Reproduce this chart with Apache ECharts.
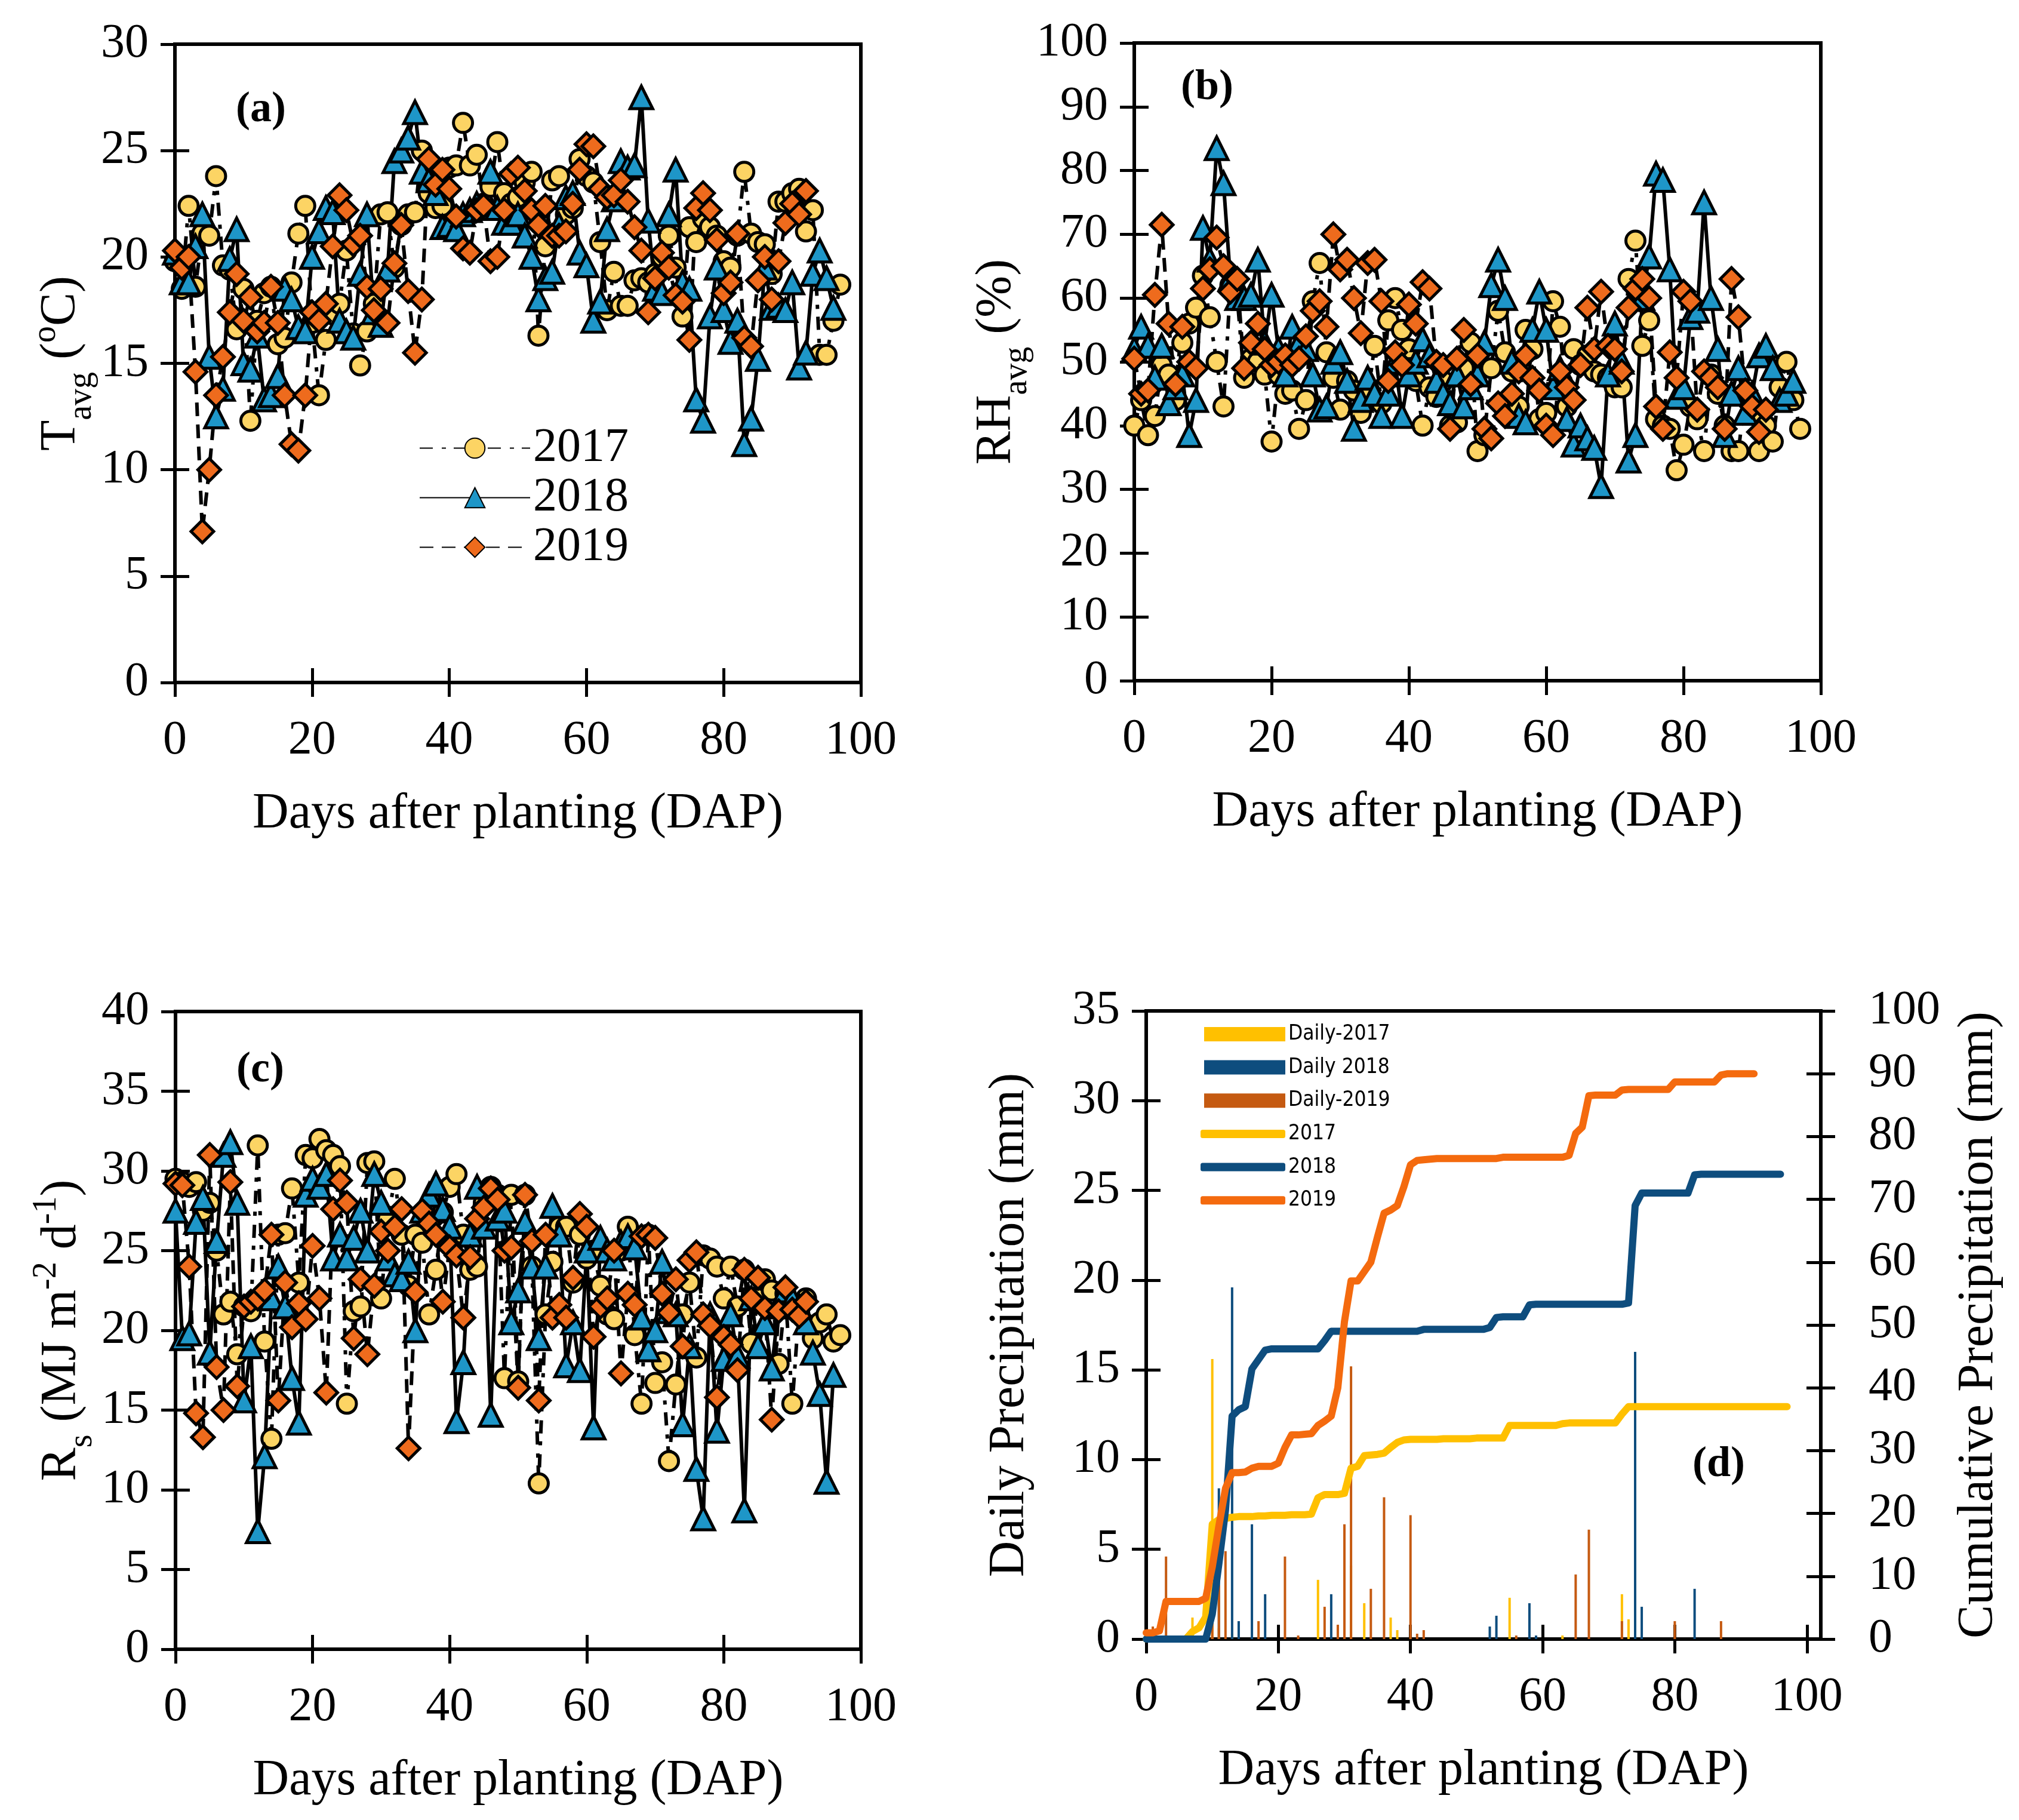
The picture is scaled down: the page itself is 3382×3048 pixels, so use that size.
<!DOCTYPE html>
<html>
<head>
<meta charset="utf-8">
<script src="https://cdn.jsdelivr.net/npm/echarts@6/dist/echarts.min.js"></script>
<style>html,body{margin:0;padding:0;background:#fff}#c{width:3382px;height:3048px}</style>
</head>
<body>
<div id="c"></div>
<script>
// ---------- DATA ----------
// (a) Average air temperature, degC, index = days after planting
const tavg2017 = [19.8,18.5,22.4,18.6,21.1,21.0,23.8,19.6,19.4,16.6,
  18.5,12.3,17.0,18.3,18.6,15.9,16.2,18.8,21.1,22.4,
  16.9,13.5,16.1,17.3,17.8,20.3,16.4,14.9,16.5,17.8,
  22.0,22.1,19.5,21.5,22.0,22.1,25.0,23.0,22.3,22.4,
  24.2,24.3,26.3,24.3,24.8,22.5,23.3,25.4,23.0,22.5,
  22.8,23.5,24.0,16.3,20.5,23.6,23.8,22.0,22.3,24.6,
  23.8,23.5,20.7,17.5,19.3,17.7,17.7,18.9,19.0,18.8,
  19.2,20.0,21.0,19.5,17.2,21.4,20.7,21.8,21.4,21.0,
  19.8,19.5,21.0,24.0,21.1,20.7,20.6,19.2,22.6,22.6,
  23.0,23.2,21.2,22.2,15.4,15.4,17.0,18.7];
const tavg2018 = [20.2,18.8,18.8,20.5,22.0,15.3,12.5,13.8,19.9,21.3,
  15.0,14.7,16.3,13.3,13.5,14.4,18.5,18.0,16.7,16.5,
  20.0,21.2,22.3,22.1,17.0,16.5,16.2,19.2,22.0,17.4,
  16.8,19.4,24.5,25.0,25.6,26.8,24.0,23.6,23.0,21.4,
  21.5,21.3,22.0,22.2,22.5,22.3,24.0,22.3,21.6,21.6,
  22.0,21.0,20.0,18.0,19.0,19.3,21.5,22.8,23.0,20.2,
  19.6,17.0,17.9,21.3,22.7,24.5,24.2,24.3,27.5,21.7,
  18.5,18.3,22.0,24.1,18.8,18.5,13.3,12.3,17.2,19.5,
  17.5,16.0,17.0,11.2,12.4,15.2,19.5,17.6,17.7,17.5,
  18.8,14.8,15.5,19.2,20.3,19.0,17.6];
const tavg2019 = [20.3,19.5,20.0,14.6,7.1,10.0,13.5,15.3,17.4,19.2,
  17.0,18.1,16.5,16.9,18.6,16.9,13.5,11.2,10.9,13.5,
  17.4,17.0,17.8,20.5,22.9,22.2,20.6,21.0,18.6,17.5,
  18.5,16.9,19.7,21.5,18.4,15.5,18.0,24.6,23.4,24.1,
  23.2,21.9,20.4,20.2,22.2,22.4,19.8,20.0,22.2,23.9,
  24.2,23.1,22.2,21.5,22.4,21.0,21.0,21.2,22.5,24.1,
  25.3,25.2,23.2,22.8,22.9,23.6,22.6,21.4,20.3,17.4,
  19.0,20.2,19.5,18.2,17.9,16.1,22.3,23.0,22.2,20.8,
  18.3,18.8,21.1,16.2,15.8,18.9,20.0,18.0,19.8,21.6,
  22.5,22.0,23.1];

// (b) Average relative humidity, %
const rh2017 = [40,44,38.5,41.5,49.5,48,44,53,56,58.5,
  63.5,57,50,43,62,60,47.5,50.5,50,48,
  37.5,48,45,45.5,39.5,44,59.5,65.5,51.5,47.5,
  42.5,47,45.5,42,44.5,52.5,43.5,56.5,60,55,
  52,47,40,46,44.5,47,40,40.5,49,53,
  36,38.5,49,58,51.5,48.5,43,55,52,41,
  42,59.5,55.5,43,52,49.5,51,48.5,48,47.5,
  46,46,63,69,52.5,56.5,41,40,39.5,33,
  37,43,41,36,48,45,40,36,36,45,
  42,36,40,37.5,46,50,44,39.5];
const rh2018 = [52,55.5,52.5,47.5,52.5,43.5,46,48,38.5,44,
  71,66,83.5,78,63,60,60,60.5,66,53,
  60.5,52,48,55.5,53,52,48,42.5,43,50,
  51.5,47,39.5,44,47.5,45,41.5,45,50,41.5,
  48,50,53.5,51,47,45,43.5,48,43,46,
  48,53,62,66,60,50,41.5,40.5,55,61,
  55,46,49,41,37,40,38,36.5,30.5,48,
  56,50,34.5,38.5,60,66.5,79.5,78.5,64.5,44.5,
  46,57,58,75,60,52,38.5,45,49,42,
  45,51,52.5,49,44,45,47];
const rh2019 = [50.5,45,45.5,60.5,71.5,56,46.5,55.5,50,49,
  61.5,64.5,69.5,65,61,63,49,53,56,52,
  49.5,50,51,49.5,50.5,54,58,59.5,55.5,70,
  64.5,66,60,54.5,65.5,66,59.5,47,51.5,49.5,
  59,56,62.5,61.5,50,49.5,39.5,50.5,55,46.5,
  51,39.5,38,43.5,41.5,45,48.5,51,47.5,45.5,
  40,38.5,48.5,46,44,49.5,58.5,52,61,52.5,
  52,48.5,58.5,61.5,63,60,43,39.5,51.5,47.5,
  61,59.5,42.5,48.5,47.5,46,39.5,63,57,45.5,
  43,39,42.5];

// (c) Solar radiation, MJ m-2 d-1
const rs2017 = [29.5,29.3,29.0,29.3,27.5,28,25,21,21.8,18.5,
  21.5,21.2,31.6,19.3,13.2,26,26.1,28.9,23,31,
  30.8,32,31.3,31,30.3,15.4,21.2,21.5,30.5,30.6,
  22,27,29.5,26,22.8,26,25.5,21,23.8,27.4,
  29,29.8,26,23.8,24,28,29,28.5,17,28.5,
  16.8,28.5,24,10.4,21,24.3,26.5,26.5,23,26,
  24.5,25,22.8,21,20.7,25,26.5,19.7,15.4,26,
  16.7,18,11.8,16.6,21,23,18.3,24.7,24.5,24,
  22,24,21.5,23.8,19.2,22,23.2,22.5,17.9,22.3,
  15.4,21.5,22,19.5,20.5,21,19.3,19.7];
const rs2018 = [27.5,19.5,19.8,26.8,28.3,18.6,25.6,31,31.8,28,
  15.6,19,7.4,12.1,22,24,21.5,17,14.2,28.5,
  29.5,29,29.8,24.5,26,24.5,25.8,27.5,25,29.8,
  28,24.5,23.5,23.2,24.3,20,27.5,28.5,29.2,27.6,
  26.5,14.3,18,26,29,26.5,14.7,27,27.5,20.5,
  22.5,26.8,24,19.5,24,27.8,26,17.8,20.5,17.5,
  25,13.9,25.8,25,24.5,25.5,25.9,25.2,20.8,18.8,
  20,24.3,21.2,21,14.1,19,11.3,8.2,21,13.7,
  18.2,21,18.4,8.7,22,19,20.5,17.6,21.5,22.5,
  22,21.5,20.5,18.6,16,10.5,17.2];
const rs2019 = [29.2,29.1,24,14.8,13.3,31,17.7,15,29.3,16.5,
  21.5,21.8,22,22.5,26,15.6,23,20.2,21.7,20.7,
  25.3,22,16.1,27.6,29.4,28,19.5,23.2,18.5,22.8,
  26.2,25,26.5,27.6,12.6,22.4,27.5,26.7,26,21.8,
  25.2,24.7,20.8,24.6,27,27.7,28.9,28.2,25,25.2,
  16.4,28.5,25.6,15.6,26,20.8,21.6,20.8,23.3,27.3,
  26.5,19.6,21.5,22,25,17.3,22.3,21.6,25.9,26,
  25.8,22.3,21.1,23.2,19,24.4,24.9,21,20.3,15.8,
  19.6,19.1,17.5,23.8,22,23.3,21.4,14.4,21.2,22.7,
  21.3,20.9,21.8];

// (d) Daily precipitation, mm: [day, mm]
const daily2017 = [[7,1.2],[10,15.6],[11,0.6],[13,0.3],[26,3.3],[31,4.1],[33,2.0],[37,1.2],[38,0.5],[55,2.3],[63,0.2],[72,2.5],[73,1.1]];
const daily2018 = [[11,8.4],[13,19.6],[14,1.0],[16,6.4],[18,2.5],[28,2.5],[52,0.7],[53,1.3],[58,2.0],[59,0.2],[74,16.0],[75,1.8],[83,2.8]];
const daily2019 = [[1,0.7],[3,4.6],[4,0.2],[10,1.5],[11,3.0],[12,4.9],[17,1.0],[21,4.6],[23,0.2],[27,1.8],[29,0.8],[30,6.4],[31,15.2],[34,2.8],[36,7.9],[40,6.9],[41,0.3],[42,0.5],[56,0.2],[65,3.6],[67,6.1],[72,1.0],[80,1.0],[87,1.0]];
// (d) Cumulative precipitation, mm, index = day
const cum2017 = [0,0,0,0,0,0,0,1.2,1.8,3.5,
  18.3,19.0,19.2,19.4,19.5,19.5,19.5,19.6,19.6,19.7,
  19.7,19.7,19.8,19.8,19.8,19.9,22.5,23.0,23.0,23.0,
  23.2,27.2,27.5,29.2,29.3,29.4,29.6,30.5,31.3,31.7,
  31.8,31.8,31.8,31.8,31.8,31.9,31.9,31.9,31.9,31.9,
  32.0,32.0,32.0,32.0,32.0,34.0,34.0,34.0,34.0,34.0,
  34.0,34.0,34.0,34.3,34.4,34.4,34.4,34.4,34.4,34.4,
  34.4,34.4,35.8,37.0,37.0,37.0,37.0,37.0,37.0,37.0,
  37.0,37.0,37.0,37.0,37.0,37.0,37.0,37.0,37.0,37.0,
  37.0,37.0,37.0,37.0,37.0,37.0,37.0,37.0];
const cum2018 = [0,0,0,0,0,0,0,0,0,0,
  4.0,12.0,20.5,35.5,36.5,37.0,43.0,44.5,46.0,46.2,
  46.2,46.2,46.2,46.2,46.2,46.2,46.2,47.5,49.0,49.0,
  49.0,49.0,49.0,49.0,49.0,49.0,49.0,49.0,49.0,49.0,
  49.0,49.0,49.3,49.3,49.3,49.3,49.3,49.3,49.3,49.3,
  49.3,49.3,49.6,51.2,51.3,51.3,51.3,51.3,53.2,53.3,
  53.3,53.3,53.3,53.3,53.3,53.3,53.3,53.3,53.3,53.3,
  53.3,53.3,53.3,53.5,69.0,71.0,71.0,71.0,71.0,71.0,
  71.0,71.0,71.0,73.9,74.0,74.0,74.0,74.0,74.0,74.0,
  74.0,74.0,74.0,74.0,74.0,74.0,74.0];
const cum2019 = [1.0,1.0,1.3,6.0,6.0,6.0,6.0,6.0,6.0,6.5,
  11.5,18.0,24.0,26.5,26.5,26.6,27.2,27.5,27.5,27.5,
  28.0,30.5,32.5,32.5,32.6,32.7,34.0,34.7,35.5,40.0,
  50.5,57.0,57.0,58.5,60.0,64.0,67.8,68.3,69.0,72.0,
  75.5,76.2,76.3,76.4,76.5,76.5,76.5,76.5,76.5,76.5,
  76.5,76.5,76.5,76.5,76.7,76.7,76.7,76.7,76.7,76.7,
  76.7,76.7,76.7,76.7,77.0,80.5,81.5,86.5,86.6,86.6,
  86.6,86.6,87.4,87.5,87.5,87.5,87.5,87.5,87.5,87.5,
  88.7,88.7,88.7,88.7,88.7,88.7,88.7,89.8,90.0,90.0,
  90.0,90.0,90.0];

const xTicksD = [0,20,40,60,80,100];

// ---------- STYLE ----------
const FONT = 'Liberation Serif';
const C17 = '#FCD464', C18 = '#1E96C8', C19 = '#EE6B1D';
const P17 = '#FFC000', P18 = '#0E4D7E', P19bar = '#C55A11', P19 = '#F46A0E';
const TK = 24; // half tick length (ticks cross the axis line)
const pairs = arr => arr.map((v, i) => [i, v]);

function xAxisDef(gi, max, custom) {
  const ax = {
    type: 'value', gridIndex: gi, min: 0, max: max, interval: 20, position: 'bottom', offset: -TK,
    splitLine: {show: false},
    axisLine: {show: false, onZero: false},
    axisTick: {show: true, inside: false, length: 2 * TK, lineStyle: {color: '#000', width: 5}},
    axisLabel: {show: true, margin: 58 + TK, fontSize: 80, fontFamily: FONT, color: '#000'},
    name: 'Days after planting (DAP)', nameLocation: 'middle', nameGap: 179 + TK,
    nameTextStyle: {fontSize: 84, fontFamily: FONT, color: '#000', lineHeight: 84}
  };
  if (custom) {
    ax.axisTick.customValues = custom;
    ax.axisLabel.customValues = custom;
    ax.axisLabel.formatter = v => (v % 20 === 0 && v <= 100) ? String(v) : '';
  }
  return ax;
}
const richName = {
  m: {fontSize: 84, fontFamily: FONT, color: '#000', verticalAlign: 'top', lineHeight: 84, padding: [12, 0, 0, 0]},
  sub: {fontSize: 56, fontFamily: FONT, color: '#000', verticalAlign: 'top', lineHeight: 56, padding: [60, 0, 0, 0]},
  sup: {fontSize: 56, fontFamily: FONT, color: '#000', verticalAlign: 'top', lineHeight: 56, padding: [0, 0, 0, 0]}
};
function yAxisDef(gi, max, interval, name, gap, pos, margin) {
  return {
    type: 'value', gridIndex: gi, min: 0, max: max, interval: interval, position: pos || 'left', offset: -TK,
    splitLine: {show: false},
    axisLine: {show: false, onZero: false},
    axisTick: {show: true, inside: false, length: 2 * TK, lineStyle: {color: '#000', width: 5}},
    axisLabel: {show: true, margin: (margin || 44) + TK, fontSize: 80, fontFamily: FONT, color: '#000'},
    name: name, nameLocation: 'middle', nameGap: gap + TK,
    nameTextStyle: {fontSize: 84, fontFamily: FONT, color: '#000', lineHeight: 84, rich: richName}
  };
}

function yearSeries(name, xi, yi, data, kind) {
  const cfg = {
    '2017': {symbol: 'circle', size: 32, fill: C17, type: [22, 15, 7, 13]},
    '2018': {symbol: 'triangle', size: 38, fill: C18, type: 'solid'},
    '2019': {symbol: 'diamond', size: 38, fill: C19, type: [23, 14]}
  }[kind];
  return {
    type: 'line', name: name, xAxisIndex: xi, yAxisIndex: yi, data: pairs(data),
    symbol: cfg.symbol, symbolSize: cfg.size, showSymbol: true, showAllSymbol: true,
    itemStyle: {color: cfg.fill, borderColor: '#000', borderWidth: 5},
    lineStyle: {color: '#000', width: 6, type: cfg.type},
    emphasis: {disabled: true}, animation: false
  };
}
function barSeries(name, data, color) {
  return {type: 'bar', name: name, xAxisIndex: 3, yAxisIndex: 3, data: data, barWidth: 4, barGap: '-100%',
    itemStyle: {color: color}, emphasis: {disabled: true}, animation: false};
}
function cumSeries(name, data, color) {
  return {type: 'line', name: name, xAxisIndex: 3, yAxisIndex: 4, data: pairs(data), showSymbol: false, symbol: 'none',
    itemStyle: {color: color}, lineStyle: {color: color, width: 12, cap: 'round', join: 'round'},
    z: 5, emphasis: {disabled: true}, animation: false};
}

const grids = [
  {left: 293, top: 74, width: 1149, height: 1069},
  {left: 1900, top: 72, width: 1150, height: 1068},
  {left: 294, top: 1694, width: 1148, height: 1068},
  {left: 1920, top: 1693, width: 1130, height: 1052}
].map(g => Object.assign(g, {show: true, borderColor: '#000', borderWidth: 6, backgroundColor: 'transparent', containLabel: false}));

const xAxes = [xAxisDef(0, 100), xAxisDef(1, 100), xAxisDef(2, 100), xAxisDef(3, 102.1, xTicksD)];
const yAxes = [
  yAxisDef(0, 30, 5, '{m|T}{sub|avg}{m| (}{sup|o}{m|C)}', 151),
  yAxisDef(1, 100, 10, '{m|RH}{sub|avg}{m| (%)}', 136),
  yAxisDef(2, 40, 5, '{m|R}{sub|s}{m| (MJ m}{sup|-2}{m| d}{sup|-1}{m|)}', 152),
  yAxisDef(3, 35, 5, 'Daily Precipitation (mm)', 186),
  yAxisDef(3, 100, 10, 'Cumulative Precipitation (mm)', 223, 'right', 80)
];

const series = [
  yearSeries('2017', 0, 0, tavg2017, '2017'),
  yearSeries('2018', 0, 0, tavg2018, '2018'),
  yearSeries('2019', 0, 0, tavg2019, '2019'),
  yearSeries('2017', 1, 1, rh2017, '2017'),
  yearSeries('2018', 1, 1, rh2018, '2018'),
  yearSeries('2019', 1, 1, rh2019, '2019'),
  yearSeries('2017', 2, 2, rs2017, '2017'),
  yearSeries('2018', 2, 2, rs2018, '2018'),
  yearSeries('2019', 2, 2, rs2019, '2019'),
  barSeries('Daily-2017', daily2017, P17),
  barSeries('Daily 2018', daily2018, P18),
  barSeries('Daily-2019', daily2019, P19bar),
  cumSeries('Cum2017', cum2017, P17),
  cumSeries('Cum2018', cum2018, P18),
  cumSeries('Cum2019', cum2019, P19)
];

const panelLabel = (t, x, y) => ({type: 'text', z: 100, style: {text: t, x: x, y: y, align: 'center', verticalAlign: 'middle',
  font: 'bold 72px "Liberation Serif"', fill: '#000'}});

const option = {
  backgroundColor: '#fff',
  animation: false,
  grid: grids,
  xAxis: xAxes,
  yAxis: yAxes,
  legend: [
    {data: ['2017', '2018', '2019'], orient: 'vertical', left: 697, top: 704, itemWidth: 185, itemHeight: 42, itemGap: 0,
      selectedMode: false, textStyle: {fontFamily: FONT, fontSize: 80, lineHeight: 83, color: '#000'}},
    {data: ['Daily-2017', 'Daily 2018', 'Daily-2019'], orient: 'vertical', left: 2012, top: 1707, icon: 'rect',
      itemWidth: 136, itemHeight: 24, itemGap: 15.6, selectedMode: false,
      textStyle: {fontFamily: 'DejaVu Sans Condensed', fontSize: 35, lineHeight: 40, color: '#000'}},
    {data: ['Cum2017', 'Cum2018', 'Cum2019'], orient: 'vertical', left: 2006, top: 1874, icon: 'roundRect',
      itemWidth: 142, itemHeight: 14, itemGap: 15.6, selectedMode: false, formatter: n => n.replace('Cum', ''),
      textStyle: {fontFamily: 'DejaVu Sans Condensed', fontSize: 35, lineHeight: 40, color: '#000'}}
  ],
  graphic: [
    panelLabel('(a)', 437, 184),
    panelLabel('(b)', 2022, 147),
    panelLabel('(c)', 436, 1792),
    panelLabel('(d)', 2879, 2453)
  ],
  series: series
};

const chart = echarts.init(document.getElementById('c'), null, {renderer: 'canvas', width: 3382, height: 3048});
chart.setOption(option);
</script>
</body>
</html>
